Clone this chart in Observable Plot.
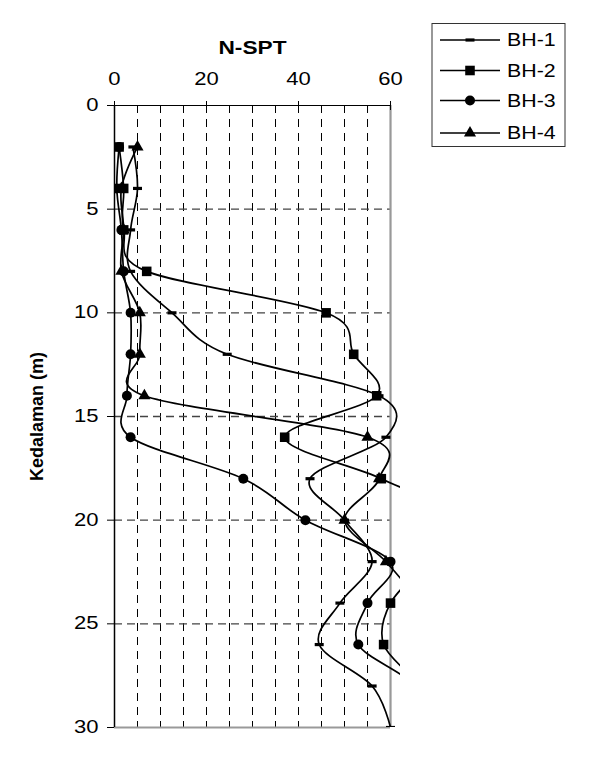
<!DOCTYPE html>
<html><head><meta charset="utf-8">
<script src="https://cdn.jsdelivr.net/npm/d3@7"></script>
<script src="https://cdn.jsdelivr.net/npm/@observablehq/plot@0.6"></script>
<style>
body{margin:0;background:#fff;font-family:"Liberation Sans",Arial,sans-serif}
#wrap{position:relative;width:594px;height:757px}
</style>
</head><body><div id="wrap"></div>
<script>
// Depth (m) and N-SPT values per borehole (values > 60 run off the chart)
const depths = [2, 4, 6, 8, 10, 12, 14, 16, 18, 20, 22, 24, 26, 28, 30];
const bh1 = [4, 5, 3.5, 3.5, 12.5, 24.5, 57.5, 59, 42.5, 50, 56, 49, 44.5, 56, 60];
const bh2 = [1, 2, 2, 7, 46, 52, 57, 37, 58, 75, 68, 60, 58.5, 66, 68];
const bh3 = [1, 0.5, 1.5, 2, 3.5, 3.5, 2.7, 3.5, 28, 41.5, 60, 55, 53, 65, 63.5];
const bh4 = [5, 1.5, 2, 1.5, 5.5, 5.5, 6.5, 55, 57.5, 50, 59, 66, 68, 68, 68];
const seriesNames = ["BH-1", "BH-2", "BH-3", "BH-4"];
const xTickLabels = [0, 20, 40, 60];
const xMinorTicks = [0, 5, 10, 15, 20, 25, 30, 35, 40, 45, 50, 55, 60];
const xGrid = [5, 10, 15, 20, 25, 30, 35, 40, 45, 50, 55];
const yTicks = [0, 5, 10, 15, 20, 25, 30];
const yGrid = [5, 10, 15, 20, 25];

const allVals = [bh1, bh2, bh3, bh4];
const rows = [];
seriesNames.forEach((s, i) => depths.forEach((d, j) => rows.push({bh: s, depth: d, n: allVals[i][j]})));
const of = s => rows.filter(r => r.bh === s);

const dashSymbol = {draw(ctx) { ctx.moveTo(-4.5, -1.6); ctx.lineTo(4.5, -1.6); ctx.lineTo(4.5, 1.6); ctx.lineTo(-4.5, 1.6); ctx.closePath(); }};

const chart = Plot.plot({
  width: 594, height: 757,
  marginLeft: 114, marginRight: 194, marginTop: 105, marginBottom: 30,
  style: {fontFamily: '"Liberation Sans", Arial, sans-serif', fontSize: "17.5px", background: "#fff", color: "#000", overflow: "visible"},
  x: {domain: [0, 62.17], axis: null},
  y: {domain: [0, 30], reverse: true, axis: null},
  marks: [
    Plot.gridX(xGrid, {stroke: "#000", strokeOpacity: 1, strokeWidth: 1, strokeDasharray: "8,6"}),
    Plot.ruleY(yGrid, {y: d => d, x1: 0, x2: 60, stroke: "#444", strokeWidth: 1.3, strokeDasharray: "8,5"}),
    Plot.ruleX([60], {stroke: "#999", strokeWidth: 2.2}),
    Plot.ruleY([30], {x1: 0, x2: 60, stroke: "#999", strokeWidth: 2.2}),
    Plot.ruleX([0], {stroke: "#000", strokeWidth: 1.5}),
    Plot.ruleY([0], {x1: 0, x2: 60, stroke: "#000", strokeWidth: 1.2}),
    Plot.axisY({anchor: "left", ticks: yTicks, tickSize: 7, tickPadding: 9, fontSize: 17.5, label: null}),
    Plot.axisX({anchor: "top", ticks: xTickLabels, tickSize: 5, tickPadding: 16, fontSize: 17.5, label: null}),
    Plot.axisX({anchor: "top", ticks: xMinorTicks, tickSize: -4, tickFormat: () => "", label: null}),
    Plot.text(["N-SPT"], {x: () => 30, frameAnchor: "top", dy: -64, fontWeight: "bold", fontSize: 18, letterSpacing: "-0.6px"}),
    Plot.text(["Kedalaman (m)"], {y: () => 15, frameAnchor: "left", textAnchor: "middle", dx: -77, rotate: -90, fontWeight: "bold", fontSize: 18, letterSpacing: "-0.1px"}),
    Plot.line(rows, {x: "n", y: "depth", z: "bh", curve: "cardinal", stroke: "#000", strokeWidth: 1.7, clip: true}),
    Plot.dot(of("BH-1"), {x: "n", y: "depth", symbol: dashSymbol, fill: "#000", stroke: null, clip: true}),
    Plot.dot(of("BH-2"), {x: "n", y: "depth", symbol: "square", r: 5.4, fill: "#000", clip: true}),
    Plot.dot(of("BH-3"), {x: "n", y: "depth", symbol: "circle", r: 5, fill: "#000", clip: true}),
    Plot.dot(of("BH-4"), {x: "n", y: "depth", symbol: "triangle", r: 4.5, fill: "#000", clip: true})
  ]
});
document.getElementById("wrap").appendChild(chart);

// Legend (boxed, top right)
const svg = d3.select(chart);
const lg = svg.append("g").attr("font-family", '"Liberation Sans", Arial, sans-serif').attr("font-size", 17.5).attr("text-anchor", "start");
lg.append("rect").attr("x", 432).attr("y", 23.5).attr("width", 133).attr("height", 123)
  .attr("fill", "#fff").attr("stroke", "#333").attr("stroke-width", 1);
const rowY = [40, 70.5, 100.5, 133];
const sym = [dashSymbol, d3.symbolSquare, d3.symbolCircle, d3.symbolTriangle];
const sizes = [0, Math.PI * 5.4 * 5.4, Math.PI * 25, Math.PI * 4.5 * 4.5];
seriesNames.forEach((s, i) => {
  const g = lg.append("g").attr("transform", `translate(0,${rowY[i]})`);
  g.append("line").attr("x1", 440).attr("x2", 500).attr("y1", 0).attr("y2", 0).attr("stroke", "#000").attr("stroke-width", 1.7);
  g.append("path").attr("transform", "translate(470,0)").attr("d", d3.symbol(sym[i], sizes[i])()).attr("fill", "#000");
  g.append("text").attr("x", 507).attr("y", 0).attr("dy", "0.36em").attr("text-anchor", "start").text(s);
});

// Horizontal widening of the horizontal texts, as in the reference
const widen = (t, s) => {
  const tr = t.getAttribute("transform") || "";
  let x = parseFloat(t.getAttribute("x"));
  if (!isFinite(x)) x = 0;
  t.setAttribute("transform", `${tr} translate(${x},0) scale(${s},1) translate(${-x},0)`.trim());
};
chart.querySelectorAll("text").forEach(t => {
  if (t.textContent.startsWith("Kedalaman")) return;
  widen(t, t.textContent.startsWith("BH") ? 1.22 : 1.26);
});
</script>
</body></html>
